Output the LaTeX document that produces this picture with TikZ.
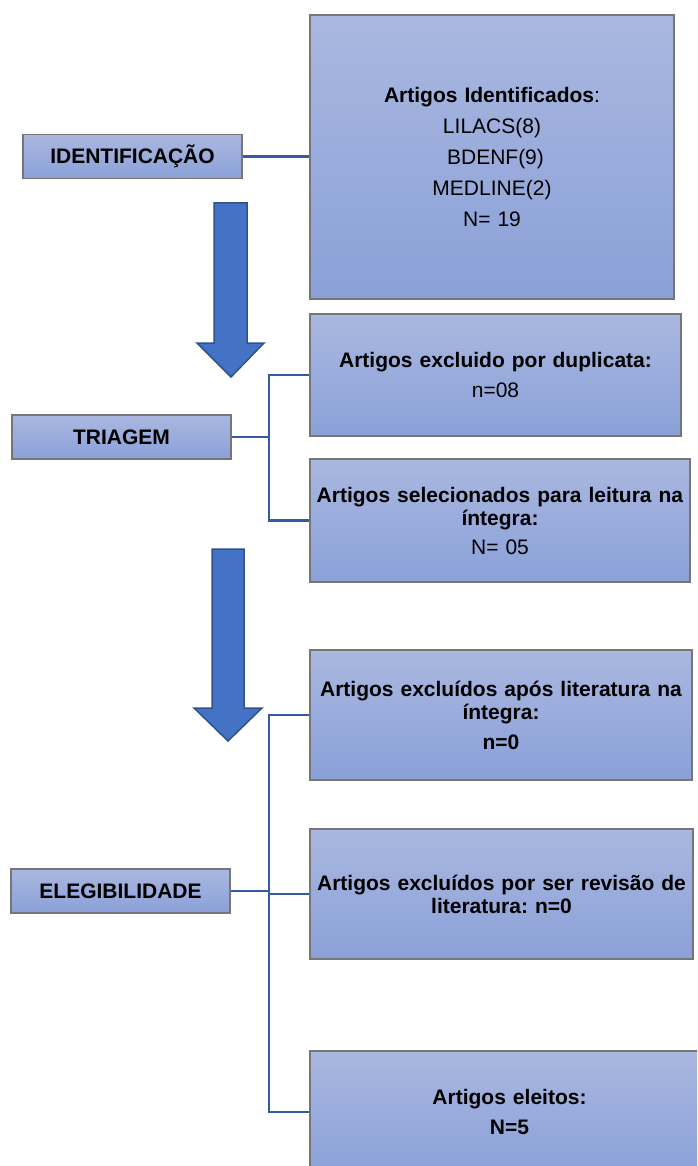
\documentclass[tikz,border=0pt]{standalone}
\usepackage{fontspec}
\setmainfont{Liberation Sans}
\usetikzlibrary{arrows.meta}
\frenchspacing
\definecolor{caixaTopo}{RGB}{170,184,224}
\definecolor{caixaBase}{RGB}{138,160,216}
\definecolor{caixaBorda}{RGB}{118,118,118}
\definecolor{setaAzul}{RGB}{68,114,196}
\definecolor{setaBorda}{RGB}{47,82,143}
\definecolor{linhaAzul}{RGB}{52,90,165}
\tikzset{
  caixa/.style={draw=caixaBorda, line width=1.2pt, top color=caixaTopo, bottom color=caixaBase,
    inner sep=0pt, align=center, font=\fontsize{21}{23}\selectfont},
  etapa/.style={caixa, font=\bfseries\fontsize{21}{23}\selectfont, text width=219pt, minimum height=44pt},
  ligacao/.style={draw=linhaAzul, line width=2.4pt},
  seta/.style={fill=setaAzul, draw=setaBorda, line width=1.5pt, line join=miter}
}

\begin{document}
\begin{tikzpicture}[x=1pt,y=-1pt]
  \useasboundingbox (0,0) rectangle (697,1166);
  \clip (0,0) rectangle (697,1166);

  % etapas
  \node[etapa] (ident)   at (132.5,156.5) {IDENTIFICAÇÃO};
  \node[etapa] (triagem) at (121.5,437)   {TRIAGEM};
  \node[etapa] (eleg)    at (120.5,891)   {ELEGIBILIDADE};

  % caixas
  \node[caixa, text width=364pt, minimum height=284pt] (artid) at (492,157)
    {\textbf{Artigos Identificados}:\\[8pt] LILACS(8)\\[8pt] \ BDENF(9)\\[8pt] MEDLINE(2)\\[8pt] N= 19};
  \node[caixa, text width=371pt, minimum height=122pt] (dup) at (495.5,375)
    {\textbf{Artigos excluido por duplicata:}\\[7pt] n=08};
  \node[caixa, text width=380pt, minimum height=123pt] (sel) at (500,520.5)
    {\textbf{Artigos selecionados para leitura na}\\ \textbf{íntegra:}\\[6pt] N= 05};
  \node[caixa, text width=382pt, minimum height=130pt, font=\bfseries\fontsize{21}{23}\selectfont] (excl) at (501,715)
    {Artigos excluídos após literatura na\\ íntegra:\\[7pt] n=0};
  \node[caixa, text width=383pt, minimum height=130pt, font=\bfseries\fontsize{21}{23}\selectfont] (rev) at (501.5,894)
    {Artigos excluídos por ser revisão de\\ literatura: n=0};
  \node[caixa, text width=399pt, minimum height=122pt, font=\bfseries\fontsize{21}{23}\selectfont] (eleitos) at (509.5,1112)
    {Artigos eleitos:\\[7pt] N=5};

  % setas
  \draw[seta] (214,203) -- (247,203) -- (247,343) -- (264,343) -- (231,377) -- (197,343) -- (214,343) -- cycle;
  \draw[seta] (212,549) -- (244,549) -- (244,708) -- (262,708) -- (228,741) -- (194,708) -- (212,708) -- cycle;

  % ligacoes
  \draw[ligacao] (ident.east) -- (ident.east -| artid.west);

  \coordinate (jtri) at (269,437);
  \draw[ligacao] (triagem.east) -- (jtri);
  \draw[ligacao] (dup.west) -| (jtri) |- (sel.west);

  \coordinate (jeleg) at (269,891);
  \draw[ligacao] (eleg.east) -- (jeleg);
  \draw[ligacao] (excl.west) -| (jeleg) |- (eleitos.west);
  \draw[ligacao] (jeleg |- rev.west) -- (rev.west);
\end{tikzpicture}
\end{document}
